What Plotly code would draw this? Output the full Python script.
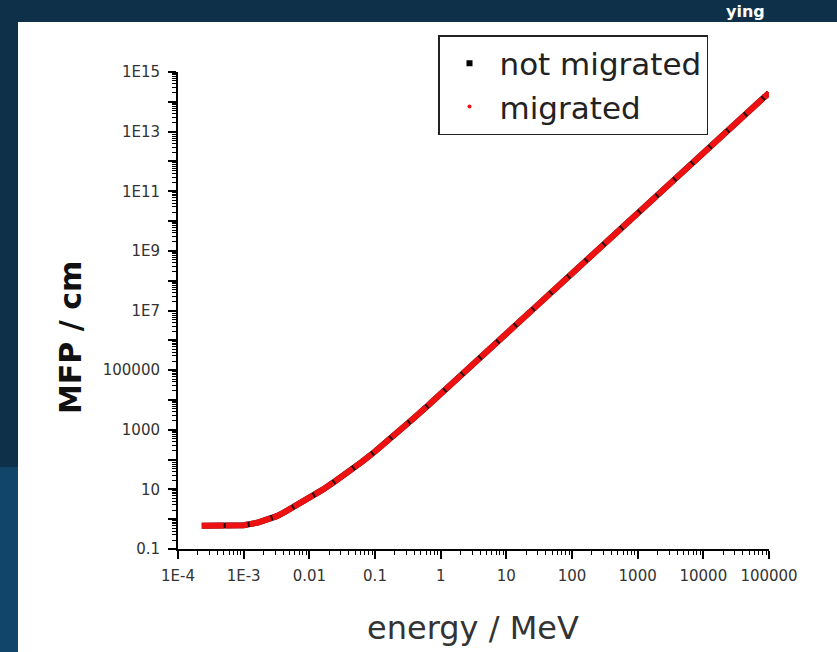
import plotly.graph_objects as go

# ---- data ----
energy_mev = [2.3e-4, 3.16e-4, 5e-4, 1e-3, 1.6e-3, 2e-3, 2.5e-3, 3.2e-3, 4e-3, 5e-3,
              6.3e-3, 0.01, 0.016, 0.025, 0.04, 0.063, 0.1, 0.16, 0.25, 0.4, 0.63,
              1, 3.16, 10, 31.6, 100, 316, 1000, 3162, 1e4, 31623, 1e5]
mfp_not_migrated = [0.60, 0.60, 0.60, 0.63, 0.76, 0.87, 1.05, 1.26, 1.62, 2.14,
                    2.95, 5.25, 9.77, 19.1, 38.9, 83.2, 186, 437, 1047, 2570, 6310,
                    1.58e4, 1.62e5, 1.66e6, 1.70e7, 1.74e8, 1.78e9, 1.82e10, 1.86e11,
                    1.91e12, 1.95e13, 2.0e14]
mfp_migrated = [0.60, 0.60, 0.60, 0.63, 0.76, 0.87, 1.05, 1.26, 1.62, 2.14,
                2.95, 5.25, 9.77, 19.1, 38.9, 83.2, 186, 437, 1047, 2570, 6310,
                1.58e4, 1.62e5, 1.66e6, 1.70e7, 1.74e8, 1.78e9, 1.82e10, 1.86e11,
                1.91e12, 1.95e13, 2.0e14]

x_tick_vals = [1e-4, 1e-3, 1e-2, 1e-1, 1, 10, 100, 1000, 1e4, 1e5]
x_tick_text = ["1E-4", "1E-3", "0.01", "0.1", "1", "10", "100", "1000", "10000", "100000"]
y_tick_vals = [10.0 ** k for k in range(-1, 16)]
y_tick_text = ["0.1", "", "10", "", "1000", "", "100000", "", "1E7", "", "1E9", "",
               "1E11", "", "1E13", "", "1E15"]

# ---- layout geometry (pixels) ----
W, H = 837, 652
L, R, T, B = 178, 769, 72, 549


def px(x):
    return (x - L) / (R - L)


def py(y):
    return (B - y) / (B - T)


TICK_FONT = dict(family="DejaVu Sans", size=15, color="#333333")

fig = go.Figure()

fig.add_trace(go.Scatter(
    x=energy_mev, y=mfp_not_migrated, mode="lines", name="not migrated",
    line=dict(color="#2a0a0a", width=6), showlegend=False, hoverinfo="skip"))
fig.add_trace(go.Scatter(
    x=energy_mev, y=mfp_migrated, mode="lines", name="migrated",
    line=dict(color="#ee1111", width=6, dash="22px,2px"), showlegend=False, hoverinfo="skip"))

# legend entries (markers only, as in the reference)
fig.add_trace(go.Scatter(x=[None], y=[None], mode="markers", name="not migrated",
                         marker=dict(symbol="square", size=6, color="black")))
fig.add_trace(go.Scatter(x=[None], y=[None], mode="markers", name="migrated",
                         marker=dict(symbol="circle", size=4, color="#ee1111")))

axis_common = dict(
    showline=True, linecolor="black", linewidth=2, mirror=False,
    ticks="outside", ticklen=8, tickwidth=2, tickcolor="black",
    showgrid=False, zeroline=False, tickfont=TICK_FONT,
    minor=dict(ticks="outside", ticklen=4, tickwidth=1, tickcolor="black",
               dtick="D1", showgrid=False),
)

fig.update_xaxes(type="log", range=[-4, 5], tickmode="array",
                 tickvals=x_tick_vals, ticktext=x_tick_text,
                 ticklabelstandoff=4, **axis_common)
fig.update_yaxes(type="log", range=[-1, 15], tickmode="array",
                 tickvals=y_tick_vals, ticktext=y_tick_text,
                 ticklabelstandoff=5, **axis_common)

shapes = [
    # white slide panel
    dict(type="rect", xref="paper", yref="paper", layer="below",
         x0=px(18), x1=px(W + 5), y0=py(H + 5), y1=py(22),
         fillcolor="white", line=dict(width=0)),
    # lighter blue lower-left strip
    dict(type="rect", xref="paper", yref="paper", layer="below",
         x0=px(-5), x1=px(18), y0=py(H + 5), y1=py(467),
         fillcolor="#11456a", line=dict(width=0)),
]

annotations = [
    dict(text="energy / MeV", x=px(473), y=py(628), xref="paper", yref="paper",
         xanchor="center", yanchor="middle", showarrow=False,
         font=dict(family="DejaVu Sans", size=32, color="#333333")),
    dict(text="<b>MFP / cm</b>", x=px(70), y=py(338), xref="paper", yref="paper",
         xanchor="center", yanchor="middle", showarrow=False, textangle=-90,
         font=dict(family="DejaVu Sans", size=30, color="#111111")),
    dict(text="<b>ying</b>", x=px(745), y=py(11), xref="paper", yref="paper",
         xanchor="center", yanchor="middle", showarrow=False,
         font=dict(family="DejaVu Sans", size=16, color="white")),
]

fig.update_layout(
    width=W, height=H, autosize=False,
    margin=dict(l=L, r=W - R, t=T, b=H - B, pad=0),
    paper_bgcolor="#0e3048", plot_bgcolor="white",
    shapes=shapes, annotations=annotations,
    legend=dict(x=px(438), y=py(35), xanchor="left", yanchor="top",
                bgcolor="white", bordercolor="#222222", borderwidth=1.5,
                font=dict(family="DejaVu Sans", size=31, color="#222222"),
                itemwidth=50, tracegroupgap=0),
)

fig.write_html("out.html")
